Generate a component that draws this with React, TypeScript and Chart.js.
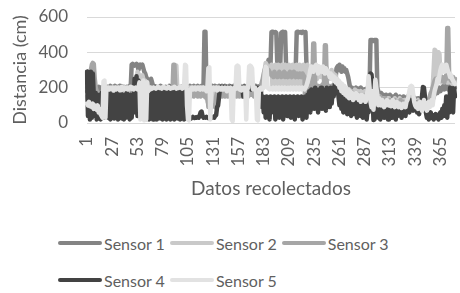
import React, { useEffect, useRef } from 'react';
import { Chart, registerables } from 'chart.js';

Chart.register(...registerables);

// Categories: data sample numbers 1..380
const categories: string[] = Array.from({ length: 380 }, (_, i) => String(i + 1));
const tickLabels = ['1', '27', '53', '79', '105', '131', '157', '183', '209', '235', '261', '287', '313', '339', '365'];
const yTicks = [0, 200, 400, 600];

const seriesNames = ['Sensor 1', 'Sensor 2', 'Sensor 3', 'Sensor 4', 'Sensor 5'];
const seriesColors = ['#848484', '#c9c9c9', '#a6a6a6', '#434343', '#e2e2e2'];

const sensor1 = [
  180,200,190,210,200,190,200,210,195,200,
  190,200,205,195,200,190,200,205,200,195,
  200,205,200,195,210,200,195,205,200,210,
  200,195,205,200,210,200,195,200,205,200,
  200,205,195,200,210,200,330,335,330,325,
  330,335,330,300,320,330,325,330,310,290,
  280,260,250,240,230,220,250,230,210,200,
  205,200,195,200,205,200,210,200,195,200,
  200,205,200,195,200,210,200,205,200,195,
  200,205,200,210,200,195,200,205,200,200,
  205,200,210,205,200,205,210,205,200,205,
  210,205,200,205,210,205,200,205,210,205,
  210,517,517,205,210,205,200,210,205,210,
  205,200,210,205,200,205,210,200,205,210,
  200,205,210,205,200,205,200,210,205,200,
  205,210,200,205,210,200,205,200,210,205,
  200,205,210,200,205,200,210,205,200,205,
  210,200,205,200,210,205,200,205,210,200,
  200,205,210,250,280,300,330,358,300,330,
  515,517,515,512,515,510,330,320,330,325,
  510,515,517,512,515,330,300,290,270,265,
  260,265,270,280,300,320,515,517,515,512,
  515,510,517,515,512,515,330,250,220,200,
  205,200,195,200,210,200,195,205,200,190,
  200,205,195,200,210,200,195,205,200,210,
  200,195,205,200,210,220,250,310,320,300,
  330,310,290,320,300,310,290,300,280,260,
  230,200,190,200,180,195,185,200,190,180,
  195,185,200,180,190,175,190,180,195,185,
  190,200,470,468,470,465,470,468,470,200,
  180,160,150,170,140,160,150,130,160,140,
  150,130,160,140,120,150,130,140,160,130,
  140,120,150,130,140,120,150,130,110,140,
  150,130,160,150,140,130,150,120,140,130,
  120,140,130,110,140,150,130,120,140,130,
  120,100,130,110,120,140,130,150,160,170,
  180,170,190,200,180,190,200,210,190,200,
  210,200,190,200,210,200,190,200,210,200,
];

const sensor2 = [
  150,120,180,100,160,130,170,110,150,120,
  140,100,130,90,120,80,60,200,210,190,
  195,200,190,195,200,190,195,200,190,195,
  200,190,195,200,190,195,200,190,195,200,
  190,195,200,190,195,200,190,195,200,190,
  195,200,290,280,260,250,240,270,250,230,
  240,220,200,190,195,200,190,195,200,190,
  195,200,190,195,200,190,195,200,190,195,
  200,190,195,200,190,195,200,190,195,200,
  190,320,325,195,200,190,195,200,190,195,
  200,190,195,200,190,195,200,190,195,200,
  190,195,200,190,195,200,190,195,200,190,
  200,180,150,200,120,180,100,200,140,190,
  110,200,150,180,200,190,195,200,190,195,
  200,190,195,200,190,195,200,190,195,200,
  190,195,200,190,195,200,190,195,200,190,
  195,200,190,195,200,190,195,200,190,195,
  200,190,195,200,190,195,200,190,195,200,
  200,220,260,300,340,330,300,280,320,300,
  330,210,320,250,330,220,300,330,210,320,
  240,330,210,310,330,220,300,210,330,250,
  320,210,330,240,310,220,330,210,300,330,
  220,320,210,330,250,310,220,330,210,300,
  250,290,320,260,310,280,300,250,320,270,
  300,260,310,280,250,300,270,310,260,290,
  280,250,300,260,280,240,270,250,230,240,
  220,200,190,210,180,200,170,190,180,170,
  190,180,170,160,180,170,190,160,170,180,
  160,170,180,150,170,160,180,150,170,160,
  150,160,180,170,150,160,170,150,160,140,
  130,150,120,140,130,120,140,110,130,120,
  140,110,130,120,100,130,110,140,120,130,
  110,120,140,100,130,120,110,130,100,120,
  130,110,120,140,130,120,110,130,120,100,
  120,130,110,120,100,130,120,110,130,120,
  110,130,120,140,150,160,200,300,415,410,
  250,300,400,390,260,230,250,240,260,240,
  250,230,240,250,230,240,220,230,240,230,
];

const sensor3 = [
  200,220,250,280,300,330,340,335,250,200,
  180,160,150,170,160,150,140,160,150,170,
  160,150,170,160,150,160,170,150,160,170,
  150,160,170,160,150,170,160,150,160,170,
  160,150,170,160,150,160,170,150,160,150,
  170,160,150,160,170,150,160,170,150,160,
  170,150,160,170,150,160,170,150,160,170,
  150,160,170,160,150,170,160,150,160,170,
  160,150,170,160,150,160,170,150,160,330,
  330,200,170,160,150,170,160,150,160,170,
  160,150,170,160,150,160,170,150,160,170,
  150,160,170,160,150,170,160,150,160,170,
  160,150,170,140,180,90,100,95,90,100,
  95,100,90,150,170,160,150,170,160,150,
  170,160,150,170,160,150,170,160,150,170,
  160,150,170,160,150,170,160,150,160,170,
  150,160,170,150,160,170,150,160,170,160,
  170,160,150,170,160,150,170,160,150,200,
  230,250,280,300,320,300,280,300,290,280,
  270,280,260,290,270,280,260,270,290,280,
  260,280,270,290,260,280,270,260,280,290,
  270,260,280,290,270,260,280,270,260,280,
  270,260,280,270,260,38,200,220,180,200,
  190,210,200,450,450,220,200,190,210,200,
  190,210,200,220,210,440,440,200,190,210,
  200,190,210,200,180,190,200,180,170,190,
  180,170,190,180,160,170,180,160,170,180,
  160,170,180,150,170,160,150,170,160,150,
  160,150,140,160,150,140,150,160,140,150,
  160,170,180,170,160,150,160,170,160,150,
  140,130,150,120,140,130,110,140,120,130,
  120,110,130,120,100,120,110,130,120,110,
  120,100,110,130,110,100,120,110,100,120,
  110,120,130,140,130,120,110,100,120,110,
  100,120,110,100,120,130,110,100,120,110,
  100,110,130,150,170,180,200,220,240,250,
  230,250,240,260,250,240,260,250,230,260,
  250,538,538,260,250,240,250,260,240,250,
];

const sensor4 = [
  290,40,285,20,290,30,280,150,40,170,
  20,160,30,120,20,170,40,150,30,60,
  40,180,30,150,20,170,40,160,25,140,
  30,170,20,150,40,165,25,130,20,160,
  30,170,40,150,20,160,30,140,60,250,
  60,265,40,240,180,60,30,150,30,180,
  20,170,40,190,20,160,30,200,20,190,
  30,205,20,180,40,200,25,195,20,170,
  30,200,20,190,35,205,20,180,30,200,
  20,195,40,200,25,190,20,200,30,185,
  20,200,40,190,30,35,30,25,30,35,
  30,28,32,30,35,30,40,60,65,40,
  30,32,30,35,30,28,30,35,32,30,
  35,30,40,45,90,100,150,200,205,200,
  200,205,200,198,205,200,202,200,205,200,
  200,198,205,200,200,203,200,198,205,200,
  200,150,205,200,160,200,205,198,200,190,
  200,205,195,200,180,200,170,200,150,200,
  90,150,60,140,30,150,80,130,20,150,
  90,140,60,150,20,130,100,150,30,140,
  75,150,20,130,90,150,40,140,80,150,
  30,130,100,150,20,140,70,150,40,130,
  90,150,20,140,80,150,30,160,100,180,
  60,190,100,170,80,200,90,180,60,190,
  110,200,80,190,100,180,70,200,120,190,
  90,200,110,180,150,210,243,240,200,150,
  100,170,80,150,60,160,90,140,50,130,
  70,150,40,120,80,130,50,110,30,120,
  60,100,40,110,30,90,50,100,20,80,
  60,150,280,275,200,17,20,90,40,110,
  30,100,20,80,50,90,30,100,40,70,
  20,90,50,80,30,100,60,70,20,90,
  40,80,60,100,30,70,50,110,40,80,
  70,120,60,130,80,110,70,125,90,100,
  60,80,50,100,120,150,204,200,150,60,
  30,50,20,40,60,30,45,20,35,50,
  30,40,20,50,60,30,80,40,100,60,
  150,30,120,60,200,80,190,60,200,150,
];

const sensor5 = [
  110,100,120,95,105,90,110,80,100,90,
  75,100,60,80,50,40,30,235,240,30,
  200,195,200,190,198,195,200,185,195,200,
  190,195,200,195,185,200,205,195,190,200,
  195,200,190,195,200,205,195,200,190,195,
  200,195,190,200,230,20,220,30,240,15,
  200,20,230,180,200,190,200,195,200,198,
  200,195,200,205,200,198,200,195,200,205,
  200,198,195,200,205,200,195,200,198,200,
  205,200,195,200,198,200,205,200,195,200,
  210,330,325,100,20,15,180,195,200,190,
  195,200,190,195,200,195,190,200,195,190,
  200,195,190,180,200,310,315,20,190,195,
  200,190,195,200,185,195,200,190,195,200,
  190,195,200,190,180,200,195,190,200,20,
  10,180,200,195,320,325,320,190,200,185,
  195,200,190,200,20,190,200,320,325,320,
  310,190,200,195,190,20,15,190,195,200,
  190,195,200,280,320,310,200,195,190,195,
  195,190,200,195,190,200,195,190,200,195,
  190,200,195,190,200,195,190,200,195,190,
  200,195,190,200,195,190,200,195,190,200,
  195,190,200,195,190,200,210,230,250,270,
  300,320,310,290,320,300,330,310,280,320,
  300,310,290,320,300,280,310,300,290,280,
  260,280,250,270,240,260,230,250,220,240,
  200,230,180,220,170,210,160,200,150,190,
  140,180,150,170,130,160,140,170,150,160,
  130,150,120,160,140,130,150,120,160,180,
  265,200,120,90,180,75,150,245,200,160,
  100,140,120,100,130,110,90,120,100,130,
  110,100,120,95,110,130,100,90,110,120,
  100,90,110,100,85,95,110,100,90,120,
  130,150,180,205,210,205,160,120,100,90,
  110,80,100,120,90,70,100,130,110,90,
  70,100,120,90,110,130,100,150,180,200,
  220,250,230,270,300,320,330,310,290,300,
  330,310,290,280,260,270,250,240,230,220,
];

const seriesData = [sensor1, sensor2, sensor3, sensor4, sensor5];

const FONT = 'Lato, "Open Sans", "DejaVu Sans", sans-serif';
const TEXT = '#5f5f5f';

export default function App() {
  const canvasRef = useRef<HTMLCanvasElement>(null);

  useEffect(() => {
    if (!canvasRef.current) return;
    const chart = new Chart(canvasRef.current, {
      type: 'line',
      data: {
        labels: categories,
        datasets: seriesData.map((d, i) => ({
          label: seriesNames[i],
          data: d,
          borderColor: seriesColors[i],
          backgroundColor: seriesColors[i],
          borderWidth: 4.5,
          pointRadius: 0,
          pointHoverRadius: 0,
          tension: 0,
          borderJoinStyle: 'round' as const,
          borderCapStyle: 'round' as const,
          order: seriesData.length - i,
        })),
      },
      options: {
        animation: false,
        responsive: true,
        maintainAspectRatio: false,
        events: [],
        layout: { padding: { top: 17, right: 5, left: 0, bottom: 0 } },
        plugins: {
          legend: { display: false },
          tooltip: { enabled: false },
        },
        scales: {
          x: {
            type: 'category',
            grid: { display: false, drawTicks: false },
            border: { display: false },
            ticks: {
              autoSkip: false,
              minRotation: 90,
              maxRotation: 90,
              padding: 14,
              color: TEXT,
              font: { family: FONT, size: 17 },
              callback: (_v: any, i: number) => (tickLabels.includes(categories[i]) ? categories[i] : ''),
            },
            title: {
              display: true,
              text: 'Datos recolectados',
              color: TEXT,
              font: { family: FONT, size: 19 },
              padding: { top: 4, bottom: 5 },
            },
            afterFit: (s: any) => {
              s.height = 82;
              s.paddingLeft = 0;
              s.paddingRight = 0;
            },
          },
          y: {
            min: 0,
            max: 600,
            afterBuildTicks: (s: any) => {
              s.ticks = yTicks.map((v) => ({ value: v }));
            },
            ticks: {
              padding: 19,
              color: TEXT,
              font: { family: FONT, size: 17 },
            },
            grid: { color: '#d9d9d9', lineWidth: 1, drawTicks: false },
            border: { display: false },
            title: {
              display: true,
              text: 'Distancia (cm)',
              color: TEXT,
              font: { family: FONT, size: 18 },
              padding: { top: 9, bottom: 0 },
            },
            afterFit: (s: any) => {
              s.width = 87;
              s.paddingTop = 0;
              s.paddingBottom = 0;
            },
          },
        },
      },
    });
    return () => chart.destroy();
  }, []);

  return (
    <div style={{ position: 'absolute', left: 0, top: 0, width: 460, height: 293, background: '#fff' }}>
      <div style={{ position: 'absolute', left: 0, top: 0, width: 460, height: 205 }}>
        <canvas ref={canvasRef} />
      </div>
      <div
        style={{
          position: 'absolute',
          left: 58,
          top: 233,
          width: 370,
          display: 'flex',
          flexWrap: 'wrap',
          rowGap: 17,
          fontFamily: FONT,
          fontSize: 16,
          color: TEXT,
        }}
      >
        {seriesNames.map((name, i) => (
          <div key={name} style={{ display: 'flex', alignItems: 'center', height: 20, marginRight: 5 }}>
            <span
              style={{
                display: 'inline-block',
                width: 44,
                height: 4,
                borderRadius: 2,
                background: seriesColors[i],
                marginRight: 2,
              }}
            />
            <span style={{ whiteSpace: 'nowrap' }}>{name}</span>
          </div>
        ))}
      </div>
    </div>
  );
}
